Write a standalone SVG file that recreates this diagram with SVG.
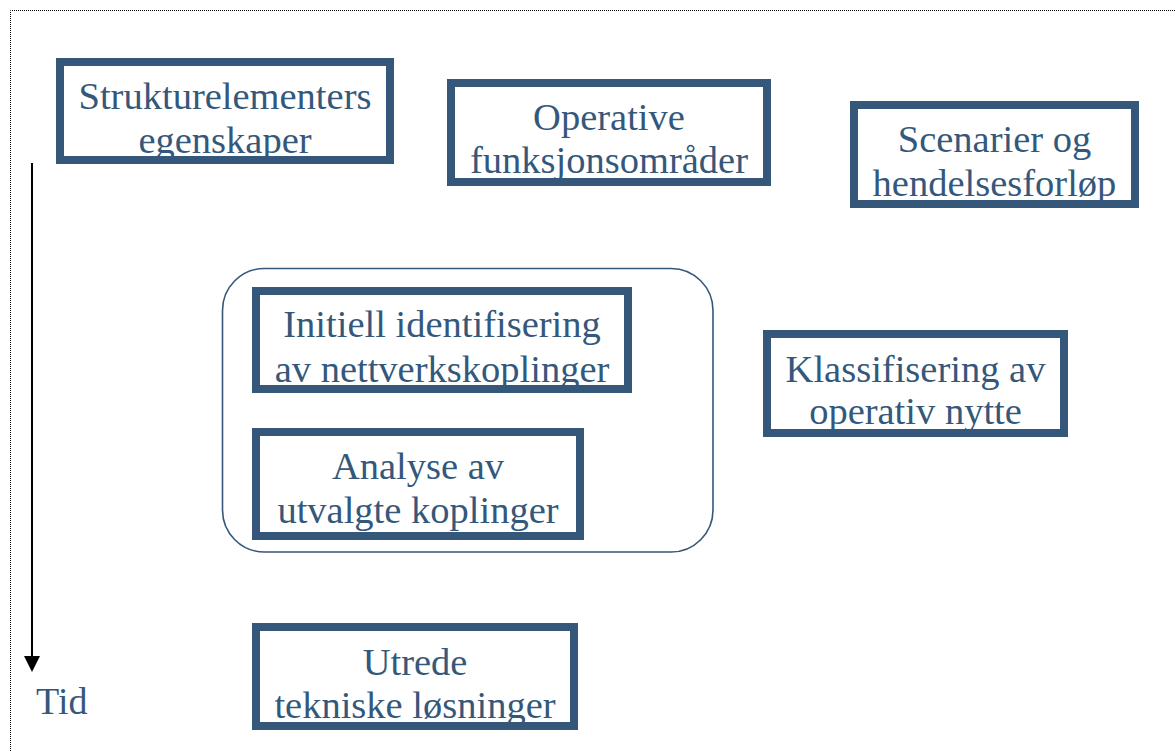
<svg xmlns="http://www.w3.org/2000/svg" width="1175" height="751" viewBox="0 0 1175 751">
<style>
.box{fill:#fff;stroke:#34577A;stroke-width:8}
.t{font-family:"Liberation Serif","Times New Roman",serif;font-size:38.5px;fill:#34587B;text-anchor:middle}
.tl{font-family:"Liberation Serif","Times New Roman",serif;font-size:38px;fill:#34587B}
</style>
<defs>
<clipPath id="c1"><rect x="64" y="66" width="322" height="90"/></clipPath>
<clipPath id="c2"><rect x="455" y="87" width="308" height="91"/></clipPath>
<clipPath id="c3"><rect x="858" y="109" width="273" height="91"/></clipPath>
<clipPath id="c4"><rect x="771" y="338" width="289" height="91"/></clipPath>
<clipPath id="c5"><rect x="260" y="295" width="364" height="90"/></clipPath>
<clipPath id="c6"><rect x="260" y="436" width="316" height="96"/></clipPath>
<clipPath id="c7"><rect x="260" y="631" width="310" height="91"/></clipPath>
</defs>
<rect width="1175" height="751" fill="#fff"/>
<path d="M10.5,751 V10.5 H1175" fill="none" stroke="#000" stroke-width="1" stroke-dasharray="1 1"/>

<g id="connectors">
<line x1="32" y1="163" x2="32" y2="656" stroke="#000" stroke-width="2"/>
<path d="M24,656 L40,656 L32,672 z" fill="#000"/>
</g>

<g id="tid"><text class="tl" x="36" y="714">Tid</text></g>

<g id="group-container">
<rect x="222.5" y="268.5" width="490.5" height="283.5" rx="42" ry="42" fill="none" stroke="#34577A" stroke-width="1.6"/>
</g>

<g id="strukturelementer">
<rect class="box" x="60" y="62" width="330" height="98"/>
<g clip-path="url(#c1)"><text class="t" x="225" y="109">Strukturelementers</text><text class="t" x="225" y="152.5">egenskaper</text></g>
</g>

<g id="operative">
<rect class="box" x="451" y="83" width="316" height="99"/>
<g clip-path="url(#c2)"><text class="t" x="609" y="130">Operative</text><text class="t" x="609" y="173">funksjonsområder</text></g>
</g>

<g id="scenarier">
<rect class="box" x="854" y="105" width="281" height="99"/>
<g clip-path="url(#c3)"><text class="t" x="994.5" y="152">Scenarier og</text><text class="t" x="994.5" y="196">hendelsesforløp</text></g>
</g>

<g id="klassifisering">
<rect class="box" x="767" y="334" width="297" height="99"/>
<g clip-path="url(#c4)"><text class="t" x="915.5" y="382">Klassifisering av</text><text class="t" x="915.5" y="424">operativ nytte</text></g>
</g>

<g id="initiell">
<rect class="box" x="256" y="291" width="372" height="98"/>
<g clip-path="url(#c5)"><text class="t" x="442" y="337">Initiell identifisering</text><text class="t" x="442" y="381.5">av nettverkskoplinger</text></g>
</g>

<g id="analyse">
<rect class="box" x="256" y="432" width="324" height="104"/>
<g clip-path="url(#c6)"><text class="t" x="418" y="478.5">Analyse av</text><text class="t" x="418" y="523">utvalgte koplinger</text></g>
</g>

<g id="utrede">
<rect class="box" x="256" y="627" width="318" height="99"/>
<g clip-path="url(#c7)"><text class="t" x="415" y="675">Utrede</text><text class="t" x="415" y="718">tekniske løsninger</text></g>
</g>
</svg>
